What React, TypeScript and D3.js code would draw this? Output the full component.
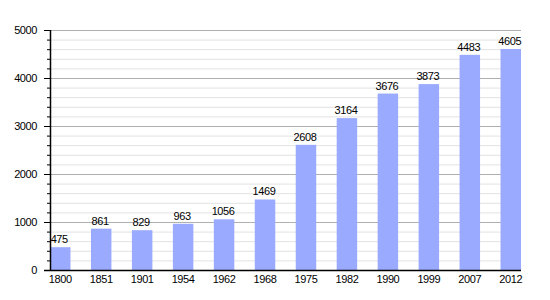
import { useEffect, useRef } from 'react'
import * as d3 from 'd3'

const years = ['1800', '1851', '1901', '1954', '1962', '1968', '1975', '1982', '1990', '1999', '2007', '2012']
const population = [475, 861, 829, 963, 1056, 1469, 2608, 3164, 3676, 3873, 4483, 4605]
const majorTicks = [0, 1000, 2000, 3000, 4000, 5000]
const minorTicks = d3.range(0, 5001, 200).filter((v) => v % 1000 !== 0)

const App = () => {
	const svgRef = useRef<SVGSVGElement>(null)

	useEffect(() => {
		const svg = d3.select(svgRef.current)
		svg.selectAll('*').remove()

		const left = 50
		const right = 521
		const top = 30
		const bottom = 270

		const x = d3.scaleBand().domain(years).range([left, right]).paddingInner(0.5).paddingOuter(0)
		const y = d3.scaleLinear().domain([0, 5000]).range([bottom, top])

		const font = 'Liberation Sans, Arial, sans-serif'

		// minor grid
		svg
			.append('g')
			.selectAll('line')
			.data(minorTicks)
			.enter()
			.append('line')
			.attr('x1', left)
			.attr('x2', right)
			.attr('y1', (d) => y(d) + 0.5)
			.attr('y2', (d) => y(d) + 0.5)
			.attr('stroke', '#e2e2e2')

		// major grid
		svg
			.append('g')
			.selectAll('line')
			.data(majorTicks.filter((d) => d > 0))
			.enter()
			.append('line')
			.attr('x1', left)
			.attr('x2', right)
			.attr('y1', (d) => y(d) + 0.5)
			.attr('y2', (d) => y(d) + 0.5)
			.attr('stroke', '#b0b0b0')

		// bars
		svg
			.append('g')
			.selectAll('rect')
			.data(population)
			.enter()
			.append('rect')
			.attr('x', (d, i) => x(years[i]))
			.attr('y', (d) => y(d))
			.attr('width', x.bandwidth())
			.attr('height', (d) => y(0) - y(d))
			.attr('fill', '#99aaff')

		// value labels
		svg
			.append('g')
			.selectAll('text')
			.data(population)
			.enter()
			.append('text')
			.attr('x', (d, i) => x(years[i]) + x.bandwidth() / 2 - 1)
			.attr('y', (d) => y(d) - 4)
			.attr('text-anchor', 'middle')
			.style('font-family', font)
			.style('font-size', '11px')
			.style('letter-spacing', '-0.4px')
			.text((d) => d)

		// y axis ticks
		svg
			.append('g')
			.selectAll('line')
			.data(minorTicks)
			.enter()
			.append('line')
			.attr('x1', left - 3)
			.attr('x2', left)
			.attr('y1', (d) => y(d) + 0.5)
			.attr('y2', (d) => y(d) + 0.5)
			.attr('stroke', '#000')

		svg
			.append('g')
			.selectAll('line')
			.data(majorTicks)
			.enter()
			.append('line')
			.attr('x1', left - 6)
			.attr('x2', left)
			.attr('y1', (d) => y(d) + 0.5)
			.attr('y2', (d) => y(d) + 0.5)
			.attr('stroke', '#000')

		svg
			.append('g')
			.selectAll('text')
			.data(majorTicks)
			.enter()
			.append('text')
			.attr('x', left - 13)
			.attr('y', (d) => y(d) + 4)
			.attr('text-anchor', 'end')
			.style('font-family', font)
			.style('font-size', '11px')
			.style('letter-spacing', '-0.4px')
			.text((d) => d)

		// axis lines
		svg
			.append('line')
			.attr('x1', left + 0.5)
			.attr('x2', left + 0.5)
			.attr('y1', top)
			.attr('y2', bottom)
			.attr('stroke', '#000')
			.attr('stroke-width', 1.5)

		svg
			.append('line')
			.attr('x1', left - 6)
			.attr('x2', right)
			.attr('y1', bottom + 0.5)
			.attr('y2', bottom + 0.5)
			.attr('stroke', '#000')
			.attr('stroke-width', 1.5)

		// x labels
		svg
			.append('g')
			.selectAll('text')
			.data(years)
			.enter()
			.append('text')
			.attr('x', (d) => x(d) + x.bandwidth() / 2)
			.attr('y', bottom + 13)
			.attr('text-anchor', 'middle')
			.style('font-family', font)
			.style('font-size', '11px')
			.style('letter-spacing', '-0.4px')
			.text((d) => d)
	}, [])

	return (
		<svg
			ref={svgRef}
			width={550}
			height={300}
			style={{ position: 'absolute', left: 0, top: 0, background: '#fff' }}
		></svg>
	)
}

export default App
